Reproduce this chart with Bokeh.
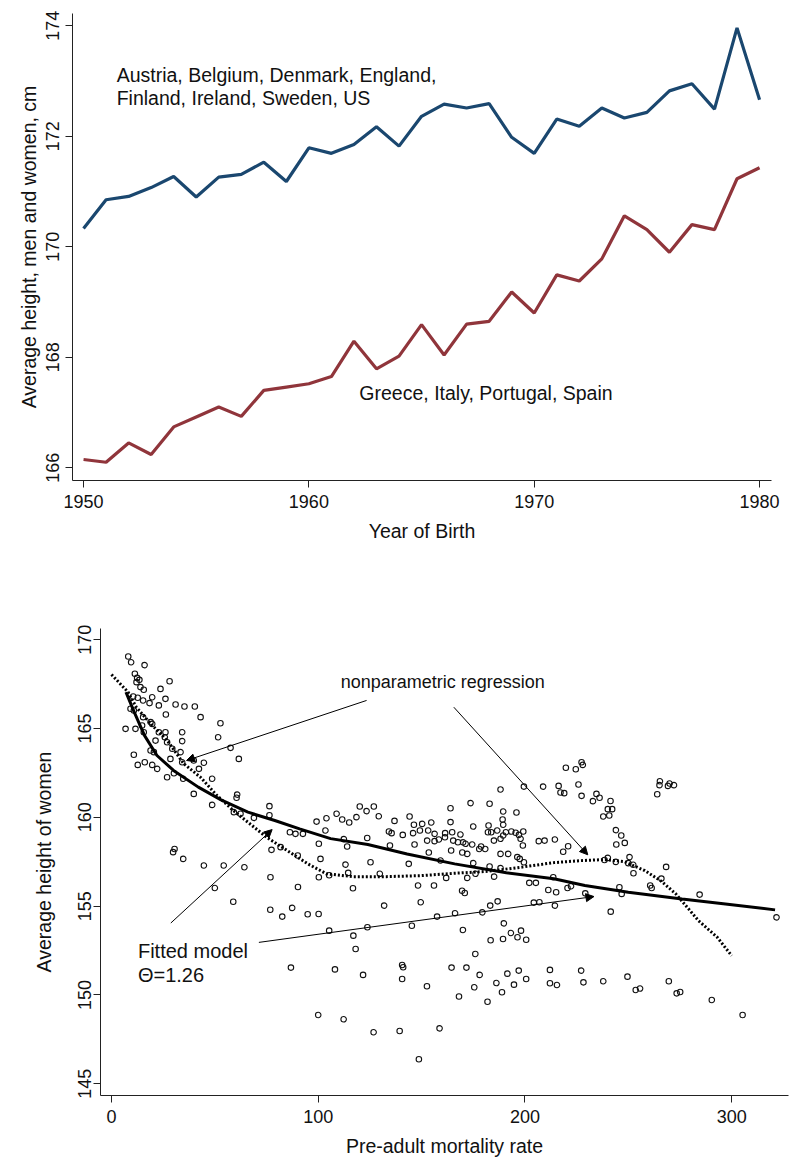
from bokeh.plotting import figure
from bokeh.models import FixedTicker, Range1d, Label, Arrow, NormalHead
from bokeh.embed import file_html
from bokeh.resources import INLINE

FONT = "Liberation Sans"

# ---------------- Top panel data ----------------
years = list(range(1950, 1981))
north_heights = [170.33, 170.85, 170.91, 171.07, 171.27, 170.90, 171.26, 171.31, 171.53, 171.18,
                 171.79, 171.69, 171.85, 172.17, 171.82, 172.36, 172.58, 172.51, 172.59, 171.98,
                 171.69, 172.31, 172.18, 172.51, 172.33, 172.43, 172.82, 172.95, 172.49, 173.96,
                 172.66]
south_heights = [166.15, 166.10, 166.45, 166.24, 166.74, 166.92, 167.10, 166.93, 167.40, 167.46,
                 167.52, 167.65, 168.29, 167.79, 168.02, 168.59, 168.04, 168.60, 168.65, 169.18,
                 168.80, 169.49, 169.38, 169.78, 170.56, 170.31, 169.90, 170.40, 170.31, 171.23,
                 171.43]
top_xticks = [1950, 1960, 1970, 1980]
top_yticks = [166, 168, 170, 172, 174]
north_label = ["Austria, Belgium, Denmark, England,", "Finland, Ireland, Sweden, US"]
south_label = "Greece, Italy, Portugal, Spain"
top_xtitle = "Year of Birth"
top_ytitle = "Average height, men and women, cm"

# ---------------- Bottom panel data ----------------
mortality = [
    8.1, 9.5, 16.0, 11.3, 12.4, 12.1, 13.5, 28.1, 14.0, 15.6, 23.7, 10.5, 12.7, 15.3, 18.4, 19.7,
    26.1, 22.9, 31.0, 35.3, 40.3, 43.1, 26.3, 9.2, 10.8, 15.3, 18.9, 19.7, 52.7, 6.8, 11.6, 14.8,
    15.6, 22.9, 26.1, 25.8, 34.2, 34.2, 51.6, 21.3, 26.9, 29.4, 18.9, 20.5, 10.8, 12.7, 16.1, 19.7,
    22.1, 28.5, 33.4, 34.2, 39.8, 44.7, 42.3, 30.2, 26.9, 34.7, 48.7, 57.6, 61.6, 39.8, 60.8, 60.5,
    48.7, 59.2, 62.4, 68.9, 76.4, 76.4, 86.3, 89.0, 92.6, 99.2, 104.0, 103.5, 100.3, 77.4, 81.8,
    90.1, 101.1, 30.5, 29.8, 34.7, 44.7, 54.3, 64.3, 76.9, 100.3,
    188.2, 199.5, 208.8, 173.7, 182.9, 164.0, 189.5, 195.9, 126.9, 120.1, 123.4, 118.5, 108.9,
    111.6, 115.0, 129.3, 136.9, 144.2, 146.3, 150.3, 154.7, 164.0, 189.2, 189.5, 134.2, 135.5,
    140.9, 145.9, 149.2, 153.2, 156.3, 161.4, 164.8, 168.8, 175.0, 182.4, 182.1, 183.7, 186.6,
    189.5, 190.8, 193.4, 195.5, 197.1, 199.2, 123.7, 152.7, 156.3, 158.4, 161.3, 165.3, 167.6,
    170.1, 171.3, 174.5, 178.8, 185.0, 188.2, 197.9, 199.0, 206.7, 209.5, 214.5, 134.7, 146.6,
    153.5, 164.3, 169.7, 172.1, 177.9, 180.8, 188.2, 191.9, 196.3, 197.5, 199.5, 112.4, 114.0,
    125.3, 143.8, 159.2, 175.0, 182.9, 188.2, 113.2, 114.5, 129.8, 161.9, 172.1, 176.1,
    227.4, 228.0, 219.8, 224.6, 216.3, 225.9, 217.2, 219.0, 227.4, 234.6, 236.1, 232.9, 241.4,
    240.1, 242.2, 237.9, 240.8, 244.0, 246.6, 244.2, 248.3, 220.9, 218.5, 250.6, 240.1, 238.5,
    244.0, 250.0, 252.4, 252.5, 268.3, 265.3, 265.1, 269.2, 272.1, 264.0, 270.0, 213.7,
    50.0, 58.9, 76.8, 82.6, 87.4, 90.2, 94.9, 100.2, 105.3, 116.8, 148.3, 156.0, 169.6, 170.9,
    185.1, 202.1, 205.3, 211.3, 215.1, 220.6, 222.3, 229.2, 245.7, 246.8, 260.6, 261.3, 266.0,
    284.5, 321.7, 241.5, 131.9, 149.6, 183.2, 186.8, 204.3, 207.0, 214.5, 179.4, 166.2, 157.5,
    145.3, 123.8, 117.0, 105.3, 118.1, 170.0, 189.8, 183.4, 189.4, 193.2, 196.4, 198.1, 200.6,
    176.0, 86.8, 108.1, 121.7, 140.6, 141.1, 140.6, 152.6, 164.5, 171.7, 178.1, 168.1, 175.5,
    181.9, 186.2, 188.9, 191.5, 194.7, 197.0, 200.6, 212.1, 212.1, 215.5, 227.2, 228.3, 237.9,
    249.6, 253.6, 255.7, 269.6, 273.4, 275.1, 290.4, 305.3, 100.0, 112.3, 126.8, 139.4, 158.7,
    148.7]
height_women = [
    169.05, 168.73, 168.57, 168.08, 167.85, 167.61, 167.74, 167.66, 167.33, 167.18, 167.23, 166.80,
    166.73, 166.58, 166.43, 166.76, 166.67, 166.30, 166.35, 166.24, 166.24, 165.64, 165.79, 166.11,
    166.01, 165.64, 165.36, 165.26, 165.30, 164.98, 164.98, 165.17, 164.79, 164.79, 164.79, 164.51,
    164.79, 164.29, 164.51, 164.32, 164.23, 163.86, 163.76, 163.67, 163.52, 162.95, 163.10, 162.95,
    162.73, 163.29, 163.67, 163.10, 163.20, 163.07, 162.73, 162.48, 162.26, 162.17, 162.17, 163.91,
    163.29, 161.32, 161.28, 161.10, 160.70, 160.29, 160.20, 159.97, 160.63, 160.12, 159.16, 159.07,
    159.07, 159.76, 159.95, 159.26, 158.51, 158.17, 158.32, 157.85, 157.66, 158.22, 158.04, 157.66,
    157.29, 157.29, 157.19, 156.63, 156.63,
    161.57, 161.73, 161.73, 160.80, 160.76, 160.51, 160.33, 160.27, 160.61, 160.61, 160.35, 160.01,
    160.20, 159.88, 159.71, 160.06, 159.80, 160.05, 159.58, 159.63, 159.71, 159.73, 159.88, 159.58,
    159.20, 159.11, 159.01, 159.11, 159.26, 159.26, 159.07, 159.11, 159.16, 159.03, 159.48, 159.54,
    159.16, 159.16, 159.26, 158.98, 159.16, 159.20, 159.13, 159.01, 159.20, 158.84, 158.69, 158.66,
    158.75, 158.88, 158.69, 158.60, 158.59, 158.51, 158.47, 158.36, 158.69, 158.79, 158.79, 158.41,
    158.66, 158.69, 158.75, 158.41, 158.47, 158.02, 158.13, 158.02, 157.94, 158.22, 158.22, 157.94,
    157.94, 157.76, 157.66, 157.47, 158.77, 158.36, 157.47, 157.38, 157.57, 157.42, 157.23, 157.14,
    157.34, 156.87, 156.82, 156.59, 156.59, 156.82,
    163.10, 162.95, 162.79, 162.71, 161.77, 161.85, 161.40, 161.36, 161.21, 161.32, 161.10, 160.91,
    160.92, 160.46, 160.46, 160.05, 160.10, 159.28, 158.98, 158.47, 158.56, 158.37, 158.06, 157.76,
    157.72, 157.60, 157.49, 157.42, 157.33, 156.85, 157.21, 162.03, 161.81, 161.77, 161.81, 161.30,
    161.90, 156.63,
    156.02, 155.25, 154.80, 154.41, 154.90, 156.08, 154.54, 154.56, 156.74, 156.01, 156.16, 156.16,
    155.87, 155.74, 156.66, 156.31, 156.31, 155.91, 155.78, 156.02, 156.12, 155.72, 156.06, 155.69,
    156.16, 156.02, 156.55, 155.65, 154.37, 154.69, 155.03, 155.22, 155.03, 155.27, 155.20, 155.22,
    155.03, 154.65, 154.60, 154.41, 153.90, 153.81, 153.34, 153.62, 152.59, 153.66, 154.03, 153.08,
    153.15, 153.49, 153.25, 153.62, 153.11, 152.31, 151.54, 151.44, 151.13, 151.69, 151.56, 150.90,
    150.49, 151.54, 151.54, 151.13, 149.91, 150.43, 149.62, 150.67, 150.15, 151.20, 150.58, 151.37,
    150.90, 151.41, 150.66, 150.56, 151.37, 150.71, 150.77, 151.03, 150.28, 150.36, 150.77, 150.09,
    150.17, 149.72, 148.87, 148.87, 148.63, 147.90, 147.97, 148.12, 146.38]

fit_x = [7, 11, 16, 22, 30, 42, 53, 66, 79, 91, 106, 124, 143, 166, 191, 214, 229, 250, 276, 297, 321]
fit_y = [167.05, 165.92, 164.60, 163.48, 162.64, 161.70, 160.98, 160.29, 159.82, 159.35, 158.80,
         158.47, 157.94, 157.38, 156.88, 156.54, 156.16, 155.78, 155.40, 155.12, 154.79]
np_x = [0, 8, 12, 19, 27, 35, 43, 51, 59, 67, 75, 85, 95, 104, 117, 133, 150, 166, 182, 198, 214,
        228, 238, 248, 258, 266, 273, 284, 293, 300]
np_y = [168.04, 167.05, 166.20, 165.26, 164.32, 163.01, 162.26, 161.23, 160.38, 159.63, 158.88,
        158.13, 157.38, 156.82, 156.66, 156.66, 156.72, 156.85, 156.96, 157.19, 157.45, 157.57,
        157.62, 157.51, 157.00, 156.40, 155.69, 154.18, 153.25, 152.21]
bot_xticks = [0, 100, 200, 300]
bot_yticks = [145, 150, 155, 160, 165, 170]
bot_xtitle = "Pre-adult mortality rate"
bot_ytitle = "Average height of women"

# annotation arrows: (x_start, y_start, x_end, y_end)
arrows = [(123.4, 166.58, 36.3, 163.2),
          (165.6, 166.2, 230.4, 157.89),
          (28.7, 154.05, 77.7, 159.31),
          (71.3, 152.96, 233.4, 155.54)]

INK = "#111111"


def style_axes(p, xticks, yticks, ylab_standoff, ytitle_standoff):
    p.outline_line_color = None
    p.grid.visible = False
    p.xaxis.ticker = FixedTicker(ticks=xticks)
    p.yaxis.ticker = FixedTicker(ticks=yticks)
    for ax in (p.xaxis[0], p.yaxis[0]):
        ax.axis_line_color = "#222222"
        ax.axis_line_width = 1
        ax.major_tick_line_color = "#222222"
        ax.major_tick_in = 0
        ax.major_tick_out = 7
        ax.minor_tick_line_color = None
        ax.major_label_text_font = FONT
        ax.major_label_text_font_size = "18px"
        ax.major_label_text_color = INK
        ax.axis_label_text_font = FONT
        ax.axis_label_text_font_size = "19.5px"
        ax.axis_label_text_font_style = "normal"
        ax.axis_label_text_color = INK
    p.yaxis.major_label_orientation = "vertical"
    p.xaxis.major_label_standoff = 7
    p.yaxis.major_label_standoff = ylab_standoff
    p.xaxis.axis_label_standoff = 9
    p.yaxis.axis_label_standoff = ytitle_standoff


# ---------------- Top figure ----------------
p1 = figure(frame_width=699, frame_height=467, output_backend="svg", toolbar_location=None,
            x_range=Range1d(1949.51, 1980.53), y_range=Range1d(165.77, 174.22),
            min_border_left=72, min_border_right=29, min_border_top=13, min_border_bottom=100,
            x_axis_label=top_xtitle, y_axis_label=top_ytitle)
style_axes(p1, top_xticks, top_yticks, 6, 4)
p1.line(years, north_heights, line_color="#1a476f", line_width=3.2)
p1.line(years, south_heights, line_color="#90353b", line_width=3.2)
p1.add_layout(Label(x=1951.47, y=173.11, text=north_label[0], text_font=FONT,
                    text_font_size="19.5px", text_baseline="alphabetic", text_color=INK))
p1.add_layout(Label(x=1951.47, y=172.69, text=north_label[1], text_font=FONT,
                    text_font_size="19.5px", text_baseline="alphabetic", text_color=INK))
p1.add_layout(Label(x=1962.24, y=167.35, text=south_label, text_font=FONT,
                    text_font_size="19.5px", text_baseline="alphabetic", text_color=INK))

# ---------------- Bottom figure ----------------
p2 = figure(frame_width=688, frame_height=467, output_backend="svg", toolbar_location=None,
            x_range=Range1d(-5.32, 327.5), y_range=Range1d(144.34, 170.63),
            min_border_left=100, min_border_right=12, min_border_top=48, min_border_bottom=70,
            x_axis_label=bot_xtitle, y_axis_label=bot_ytitle)
style_axes(p2, bot_xticks, bot_yticks, 2, 21)
p2.scatter(mortality, height_women, marker="circle", size=5.5, fill_alpha=0,
           line_color=INK, line_width=1.1)
p2.line(fit_x, fit_y, line_color="black", line_width=3)
p2.line(np_x, np_y, line_color="black", line_width=3, line_dash="2 2")
for xs, ys, xe, ye in arrows:
    p2.add_layout(Arrow(end=NormalHead(size=8, line_color="black", fill_color="black", line_width=1),
                        x_start=xs, y_start=ys, x_end=xe, y_end=ye,
                        line_color="black", line_width=1))
p2.add_layout(Label(x=110.9, y=167.61, text="nonparametric regression", text_font=FONT,
                    text_font_size="18px", text_baseline="alphabetic", text_color=INK))
p2.add_layout(Label(x=12.8, y=152.5, text="Fitted model", text_font=FONT,
                    text_font_size="20px", text_baseline="alphabetic", text_color=INK))
p2.add_layout(Label(x=12.8, y=151.15, text="\u0398=1.26", text_font=FONT,
                    text_font_size="20px", text_baseline="alphabetic", text_color=INK))

open("out.html", "w").write(file_html([p1, p2], INLINE))
